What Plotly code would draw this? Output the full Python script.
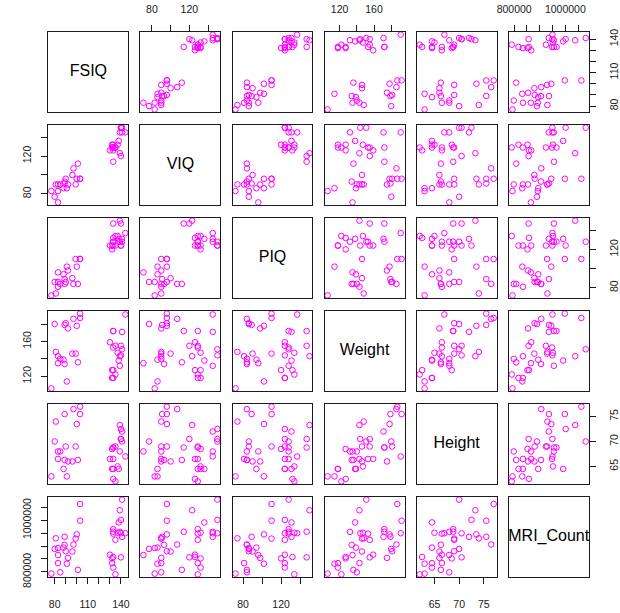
import plotly.graph_objects as go

# Brain size / IQ study: one entry per subject (None = missing)
fsiq = [133, 140, 139, 133, 137, 99, 138, 92, 89, 133, 132, 141, 135, 140, 96, 83, 132, 100, 101, 80,
        83, 97, 135, 139, 91, 141, 85, 103, 77, 130, 133, 144, 103, 90, 83, 133, 140, 88, 81, 89]
viq = [132, 150, 123, 129, 132, 90, 136, 90, 93, 114, 129, 150, 129, 120, 100, 71, 132, 96, 112, 77,
       83, 107, 129, 145, 86, 145, 90, 96, 83, 126, 126, 145, 96, 96, 90, 129, 150, 86, 90, 91]
piq = [124, 124, 150, 128, 134, 110, 131, 98, 84, 147, 124, 128, 124, 147, 90, 96, 120, 102, 84, 86,
       86, 84, 134, 128, 102, 131, 84, 110, 72, 124, 132, 137, 110, 86, 81, 128, 124, 94, 74, 89]
weight = [118, None, 143, 172, 147, 146, 138, 175, 134, 172, 118, 151, 155, 155, 146, 135, 127, 178, 136, 180,
          None, 186, 122, 132, 114, 171, 140, 187, 106, 159, 127, 191, 192, 181, 143, 153, 144, 139, 148, 179]
height = [64.5, 72.5, 73.3, 68.8, 65.0, 69.0, 64.5, 66.0, 66.3, 68.8, 64.5, 70.0, 69.0, 70.5, 66.0, 68.0,
          68.5, 73.5, 66.3, 70.0, None, 76.5, 62.0, 68.0, 63.0, 72.0, 68.0, 77.0, 63.0, 66.5, 62.5, 67.0,
          75.5, 69.0, 66.5, 66.5, 70.5, 64.5, 74.0, 75.5]
mri_count = [816932, 1001121, 1038437, 965353, 951545, 928799, 991305, 854258, 904858, 955466,
             833868, 1079549, 924059, 856472, 878897, 865363, 852244, 945088, 808020, 889083,
             892420, 905940, 790619, 955003, 831772, 935494, 798612, 1062462, 793549, 866662,
             857782, 949589, 997925, 879987, 834344, 948066, 949395, 893983, 930016, 935863]

names = ["FSIQ", "VIQ", "PIQ", "Weight", "Height", "MRI_Count"]
columns = [fsiq, viq, piq, weight, height, mri_count]

# axis ticks and the labels printed at them ("" = tick without a label)
tick_vals = [
    [80, 90, 100, 110, 120, 130, 140],
    [80, 100, 120, 140],
    [80, 100, 120, 140],
    [120, 140, 160, 180],
    [65, 70, 75],
    [800000, 850000, 900000, 950000, 1000000, 1050000],
]
tick_text = [
    ["80", "", "", "110", "", "", "140"],
    ["80", "", "120", ""],
    ["80", "", "120", ""],
    ["120", "", "160", ""],
    ["65", "70", "75"],
    ["800000", "", "", "", "1000000", ""],
]

W, H = 620, 613
X0, Y0, PITCH_X, PITCH_Y, SIZE_X, SIZE_Y = 37.7, 29.3, 95.3, 95.0, 82.7, 82.5
FONT = "Liberation Sans, Arial, Helvetica, sans-serif"
INK = "#1a1a1a"
STANDOFF = {"top": 7, "bottom": 11, "left": 6, "right": 10}


def padded_range(vals):
    v = [a for a in vals if a is not None]
    lo, hi = min(v), max(v)
    pad = 0.04 * (hi - lo)
    return [lo - pad, hi + pad]


ranges = [padded_range(c) for c in columns]

fig = go.Figure()
layout = {}
n = len(names)
for i in range(n):          # row -> y variable
    for j in range(n):      # column -> x variable
        k = i * n + j + 1
        xa = "xaxis" if k == 1 else f"xaxis{k}"
        ya = "yaxis" if k == 1 else f"yaxis{k}"
        xref = "x" if k == 1 else f"x{k}"
        yref = "y" if k == 1 else f"y{k}"
        left = X0 + j * PITCH_X
        top = Y0 + i * PITCH_Y
        xdom = [left / W, (left + SIZE_X) / W]
        ydom = [1 - (top + SIZE_Y) / H, 1 - top / H]

        show_top = i == 0 and j % 2 == 1
        show_bottom = i == n - 1 and j % 2 == 0
        show_left = j == 0 and i % 2 == 1
        show_right = j == n - 1 and i % 2 == 0
        show_x = show_top or show_bottom
        show_y = show_left or show_right
        xside = "top" if show_top else "bottom"
        yside = "right" if show_right else "left"

        xaxis = dict(
            domain=xdom, anchor=yref, range=ranges[j],
            showgrid=False, zeroline=False, showline=True, mirror=True,
            linecolor=INK, linewidth=1, side=xside,
            ticks="outside" if show_x else "", ticklen=6, tickwidth=1, tickcolor=INK,
            tickmode="array", tickvals=tick_vals[j], ticktext=tick_text[j],
            showticklabels=show_x, ticklabelstandoff=STANDOFF[xside],
            tickfont=dict(family=FONT, size=10.5, color=INK),
        )
        yaxis = dict(
            domain=ydom, anchor=xref, range=ranges[i],
            showgrid=False, zeroline=False, showline=True, mirror=True,
            linecolor=INK, linewidth=1, side=yside,
            ticks="outside" if show_y else "", ticklen=6, tickwidth=1, tickcolor=INK,
            tickmode="array", tickvals=tick_vals[i], ticktext=tick_text[i],
            showticklabels=show_y, tickangle=-90, ticklabelstandoff=STANDOFF[yside],
            tickfont=dict(family=FONT, size=10.5, color=INK),
        )
        if i == j:
            # diagonal: empty framed panel carrying the variable name
            xaxis["range"] = [0, 1]
            yaxis["range"] = [0, 1]
            fig.add_trace(go.Scatter(
                x=[0.5], y=[0.5], xaxis=xref, yaxis=yref, mode="text",
                text=[names[i]], textposition="middle center",
                textfont=dict(family=FONT, size=16, color="black"),
                hoverinfo="skip", showlegend=False, cliponaxis=False,
            ))
        else:
            pts = [(a, b) for a, b in zip(columns[j], columns[i]) if a is not None and b is not None]
            fig.add_trace(go.Scatter(
                x=[p[0] for p in pts], y=[p[1] for p in pts],
                xaxis=xref, yaxis=yref, mode="markers", cliponaxis=False,
                marker=dict(symbol="circle-open", size=5.6, color="#ff00ff",
                            line=dict(width=1, color="#ff00ff")),
                hoverinfo="skip", showlegend=False,
            ))
        layout[xa] = xaxis
        layout[ya] = yaxis

fig.update_layout(
    width=W, height=H, margin=dict(l=0, r=0, t=0, b=0),
    paper_bgcolor="white", plot_bgcolor="white",
    showlegend=False, **layout,
)
fig.write_html("out.html")
